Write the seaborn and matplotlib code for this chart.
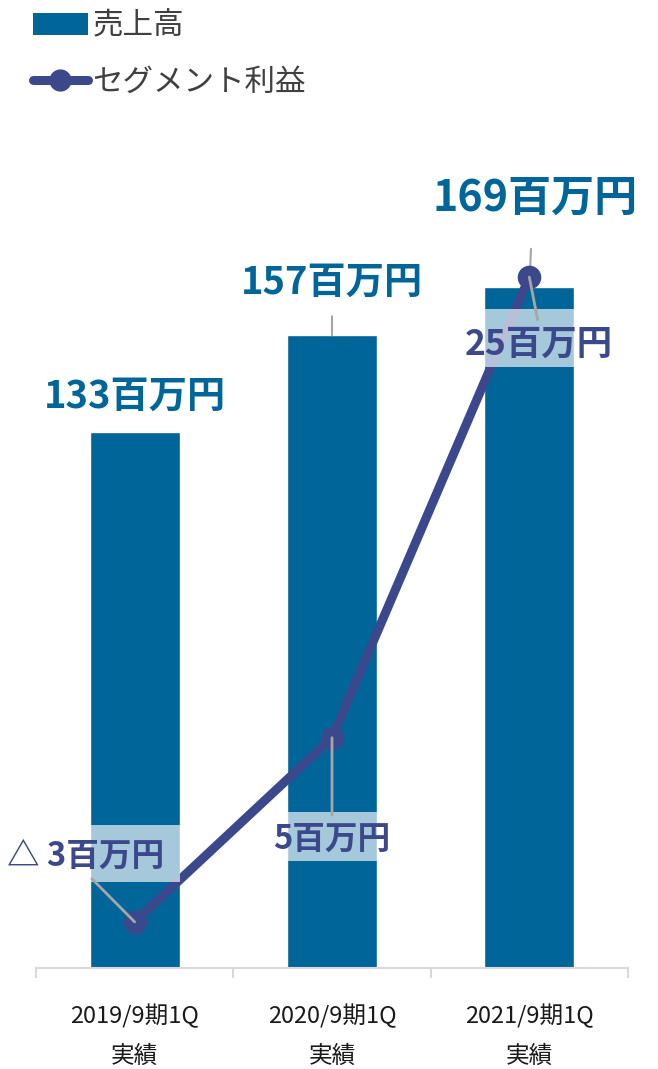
import matplotlib
matplotlib.use("Agg")
import matplotlib.pyplot as plt
from matplotlib.lines import Line2D
from matplotlib.patches import Patch, Rectangle
import seaborn as sns
import pandas as pd
import numpy as np

# ---- data ----
categories = ["2019/9期1Q\n実績", "2020/9期1Q\n実績", "2021/9期1Q\n実績"]
sales = [133, 157, 169]          # 売上高 (百万円)
profit = [-3, 5, 25]             # セグメント利益 (百万円)
sales_labels = ["133百万円", "157百万円", "169百万円"]
profit_labels = ["△ 3百万円", "5百万円", "25百万円"]

# ---- style ----
sns.set_theme(style="white")
plt.rcParams["font.family"] = ["Noto Sans CJK JP", "DejaVu Sans"]

BAR = "#00669A"
LINE = "#3B488C"
GREY = "#A6A6A6"

fig = plt.figure(figsize=(6.58, 10.69), dpi=100)
ax = fig.add_axes([0.0547, 0.0945, 0.8997, 0.754])

df = pd.DataFrame({"cat": categories, "sales": sales})
sns.barplot(data=df, x="cat", y="sales", color=BAR, width=0.455, ax=ax,
            saturation=1, zorder=1)
ax.set_ylim(0, 200)
ax.set_xlim(-0.5, 2.5)
ax.set_xlabel("")
ax.set_ylabel("")
ax.set_yticks([])
for s in ["left", "right", "top"]:
    ax.spines[s].set_visible(False)
ax.spines["bottom"].set_color("#D9D9D9")
ax.spines["bottom"].set_linewidth(1.5)
ax.set_xticks(range(len(categories)))
ax.set_xticklabels(categories, fontsize=17, color="#1a1a1a", linespacing=1.9)
ax.set_xticks([-0.5, 0.5, 1.5, 2.5], minor=True)
ax.tick_params(axis="x", which="major", length=0, pad=26)
ax.tick_params(axis="x", which="minor", length=7, width=1.5, color="#D9D9D9",
               bottom=True, direction="out")

# twin axis for profit line
ax2 = ax.twinx()
ax2.set_ylim(-5, 30)
ax2.set_yticks([])
for s in ["left", "right", "top", "bottom"]:
    ax2.spines[s].set_visible(False)
x = np.arange(len(profit))
sns.lineplot(x=x, y=profit, ax=ax2, color=LINE, linewidth=6.5, marker="o",
             markersize=17, markeredgewidth=0, zorder=3)
ax2.set_xlim(-0.5, 2.5)

# label boxes (white translucent, bar width)
box_rng = [(-1.26, 1.22), (-0.35, 1.78), (21.1, 23.6)]
for i, (lo, hi) in enumerate(box_rng):
    ax2.add_patch(Rectangle((i - 0.2275, lo), 0.455, hi - lo, facecolor="white",
                            alpha=0.65, edgecolor="none", zorder=4))

# profit labels with leader lines
p_off = [(-35.3, 47.5), (0, -73.0), (7.0, -48.5)]
p_rel = [(0.5, 0.0), (0.5, 1.0), (0.5, 1.0)]
p_fs = [23.5, 23.5, 25.5]
for i, (lab, v) in enumerate(zip(profit_labels, profit)):
    ax2.annotate(lab, xy=(i, v), xytext=p_off[i], textcoords="offset points",
                 ha="center", va="center", fontsize=p_fs[i], fontweight="bold",
                 color=LINE, zorder=6,
                 arrowprops=dict(arrowstyle="-", color=GREY, lw=2,
                                 shrinkA=3, shrinkB=0, relpos=p_rel[i]))

# sales labels
s_off = [(0, 25.5), (0, 38.0), (4.3, 64.0)]
s_fs = [27.5, 27.5, 31]
for i, (lab, v) in enumerate(zip(sales_labels, sales)):
    ax2.annotate(lab, xy=(i, (v / 200) * 35 - 5), xytext=s_off[i],
                 textcoords="offset points", ha="center", va="center",
                 fontsize=s_fs[i], fontweight="bold", color=BAR, zorder=6)
# sales leader lines
lead = [(1, 13.7), (2, 27.4)]
for i, h in lead:
    ax2.annotate("", xy=(i, (sales[i] / 200) * 35 - 5), xytext=(1.2 if i == 2 else 0, h),
                 textcoords="offset points",
                 arrowprops=dict(arrowstyle="-", color=GREY, lw=1.5,
                                 shrinkA=0, shrinkB=0), zorder=2)

# legend
handles = [Patch(facecolor=BAR, edgecolor="none"),
           Line2D([0], [0], color=LINE, lw=6.5, marker="o", markersize=16,
                  markeredgewidth=0, solid_capstyle="round")]
fig.legend(handles, ["売上高", "セグメント利益"], loc="upper left",
           bbox_to_anchor=(0.008, 1.016), frameon=False, fontsize=22,
           handlelength=1.8, handleheight=0.75, handletextpad=0.15,
           labelspacing=0.83, labelcolor="#404040")

fig.savefig("out.png", dpi=100)
